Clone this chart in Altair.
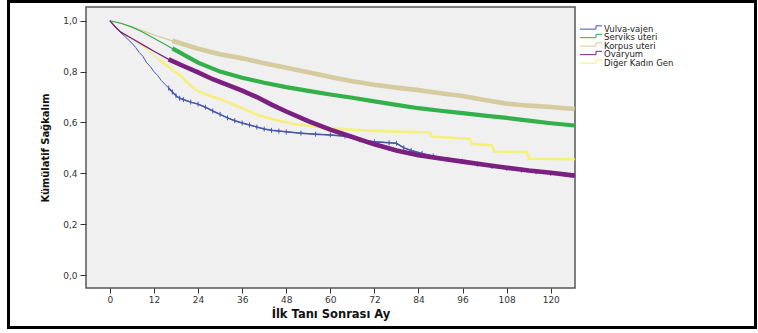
import altair as alt
import pandas as pd

series_names = ["Vulva-vajen", "Serviks uteri", "Korpus uteri", "Ovaryum", "Diğer Kadın Gen"]
series_colors = ["#4757a8", "#34b04a", "#d5cb9e", "#7b1f80", "#f5ef7c"]

# Kaplan-Meier curves (months, cumulative survival)
vulva_t = [0, 1, 2, 3, 4, 5, 6, 7, 8, 9, 10, 11, 12, 13, 14, 15, 16, 17, 18, 19, 20, 22, 24, 26, 28,
           30, 32, 34, 36, 38, 40, 42, 44, 46, 48, 52, 56, 60, 64, 68, 72, 76, 78, 80, 82, 85, 88,
           92, 96, 100, 104, 108, 112, 116, 120, 124, 126.5]
vulva_s = [1.0, 0.985, 0.968, 0.952, 0.94, 0.925, 0.912, 0.895, 0.875, 0.86, 0.835, 0.82, 0.80,
           0.785, 0.765, 0.75, 0.735, 0.72, 0.705, 0.695, 0.69, 0.68, 0.672, 0.66, 0.645, 0.632,
           0.618, 0.607, 0.598, 0.59, 0.582, 0.574, 0.569, 0.566, 0.563, 0.558, 0.554, 0.551,
           0.546, 0.532, 0.524, 0.52, 0.518, 0.50, 0.49, 0.478, 0.468, 0.455, 0.447, 0.436,
           0.427, 0.42, 0.413, 0.406, 0.40, 0.395, 0.392]

servix_t = [0, 3, 6, 9, 12, 17, 24, 30, 36, 42, 48, 54, 60, 66, 72, 78, 84, 90, 96, 102, 108, 114,
            120, 126.5]
servix_s = [1.0, 0.99, 0.975, 0.955, 0.931, 0.891, 0.835, 0.80, 0.776, 0.756, 0.739, 0.724, 0.71,
            0.697, 0.683, 0.669, 0.656, 0.646, 0.637, 0.627, 0.618, 0.607, 0.597, 0.588]

korpus_t = [0, 3, 6, 9, 12, 17, 24, 30, 36, 42, 48, 54, 60, 66, 72, 78, 84, 90, 96, 102, 108, 114,
            120, 126.5]
korpus_s = [1.0, 0.99, 0.977, 0.96, 0.944, 0.921, 0.89, 0.868, 0.852, 0.833, 0.815, 0.797, 0.779,
            0.762, 0.748, 0.737, 0.727, 0.715, 0.704, 0.688, 0.674, 0.666, 0.661, 0.653]

ovaryum_t = [0, 1.5, 3, 6, 9, 12, 16, 20, 24, 28, 32, 36, 40, 44, 48, 54, 60, 66, 72, 78, 84, 90,
             96, 102, 108, 114, 120, 126.5]
ovaryum_s = [1.0, 0.975, 0.955, 0.93, 0.905, 0.88, 0.848, 0.822, 0.797, 0.77, 0.748, 0.725, 0.70,
             0.67, 0.643, 0.605, 0.572, 0.543, 0.514, 0.49, 0.471, 0.458, 0.446, 0.434, 0.422,
             0.411, 0.402, 0.391]

diger_t = [0, 3, 6, 9, 11, 13.5, 16, 19, 21, 23.5, 26, 28, 30, 32, 35, 40, 45, 50, 55, 60, 65, 70,
           75, 80, 87, 87.5, 98, 98.5, 104, 104.5, 113.5, 114, 126.5]
diger_s = [1.0, 0.955, 0.93, 0.90, 0.875, 0.845, 0.818, 0.786, 0.757, 0.727, 0.712, 0.70, 0.692,
           0.68, 0.662, 0.63, 0.61, 0.594, 0.585, 0.577, 0.572, 0.568, 0.566, 0.563, 0.561, 0.545,
           0.535, 0.515, 0.51, 0.486, 0.484, 0.457, 0.455]

x_ticks = [0, 12, 24, 36, 48, 60, 72, 84, 96, 108, 120]
y_ticks = [0.0, 0.2, 0.4, 0.6, 0.8, 1.0]

series = {
    "Vulva-vajen": (vulva_t, vulva_s),
    "Serviks uteri": (servix_t, servix_s),
    "Korpus uteri": (korpus_t, korpus_s),
    "Ovaryum": (ovaryum_t, ovaryum_s),
    "Diğer Kadın Gen": (diger_t, diger_s),
}
color_of = dict(zip(series_names, series_colors))
# (start of dense censor band, thin width, thick width)
style = {
    "Vulva-vajen": (16, 1.0, 1.5),
    "Serviks uteri": (17, 1.2, 4.2),
    "Korpus uteri": (17, 1.2, 4.6),
    "Ovaryum": (16, 1.3, 4.6),
    "Diğer Kadın Gen": (13.5, 1.2, 2.6),
}
draw_order = ["Korpus uteri", "Serviks uteri", "Diğer Kadın Gen", "Vulva-vajen", "Ovaryum"]

x_enc = alt.X("t:Q", scale=alt.Scale(domain=[-6.5, 126.6], nice=False, zero=False),
              axis=alt.Axis(values=x_ticks, title="İlk Tanı Sonrası Ay", tickSize=5,
                            labelPadding=2, titlePadding=4, domain=False, grid=False, zindex=2))
y_enc = alt.Y("s:Q", scale=alt.Scale(domain=[-0.051, 1.054], nice=False, zero=False),
              axis=alt.Axis(values=y_ticks, title="Kümülatif Sağkalım", tickSize=6,
                            labelPadding=3, titlePadding=12, domain=False, grid=False, zindex=2,
                            labelExpr="replace(format(datum.value, '.1f'), '.', ',')"))

layers = []
frame = alt.Chart(pd.DataFrame({"k": [0]})).mark_rect(
    fill="transparent", stroke="black", strokeWidth=3
).encode(x=alt.value(-77.5), x2=alt.value(669.5), y=alt.value(-5.5), y2=alt.value(320.5))
layers.append(frame)

for name in draw_order:
    ts, ss = series[name]
    start, w_thin, w_thick = style[name]
    df = pd.DataFrame({"t": ts, "s": ss})
    layers.append(alt.Chart(df).mark_line(
        color=color_of[name], strokeWidth=w_thin
    ).encode(x=x_enc, y=y_enc))
    dft = df[df["t"] >= start]
    layers.append(alt.Chart(dft).mark_line(
        color=color_of[name], strokeWidth=w_thick
    ).encode(x=x_enc, y=y_enc))
    if name == "Vulva-vajen":
        # censor ticks on the thin blue curve
        layers.append(alt.Chart(dft).mark_point(
            shape="M0,-1L0,1", size=25, filled=False, stroke=color_of[name],
            strokeWidth=1, opacity=1
        ).encode(x=x_enc, y=y_enc))

# legend
step_path = "M-1,0.15L0.45,0.15L0.45,-0.15L1,-0.15"
for i, name in enumerate(series_names):
    yy = 21.5 + 8.5 * i
    d = pd.DataFrame({"label": [name]})
    layers.append(alt.Chart(d).mark_point(
        shape=step_path, size=484, filled=False, stroke=color_of[name], strokeWidth=1, opacity=1
    ).encode(x=alt.value(505), y=alt.value(yy - 1)))
    layers.append(alt.Chart(d).mark_text(
        align="left", baseline="middle", font="DejaVu Sans", fontSize=8.5, color="#222222"
    ).encode(x=alt.value(518), y=alt.value(yy), text="label:N"))

chart = alt.layer(*layers).properties(
    width=489, height=281,
    autosize=alt.AutoSizeParams(type="none"),
    padding={"left": 86, "top": 7, "right": 183, "bottom": 45},
    background="white",
).configure_view(fill="#f0f0f0", stroke="#555555", strokeWidth=1.5).configure_axis(
    labelFont="DejaVu Sans", labelFontSize=9, labelColor="#333333",
    tickColor="#333333", tickWidth=1,
    titleColor="#111111",
).configure_axisX(
    titleFont="DejaVu Sans", titleFontSize=11.5, titleFontWeight="bold",
).configure_axisY(
    titleFont="Liberation Sans Narrow, DejaVu Sans Condensed", titleFontSize=11,
    titleFontWeight="bold",
)

chart.save("out.html", embed_options={"renderer": "svg", "actions": False})
